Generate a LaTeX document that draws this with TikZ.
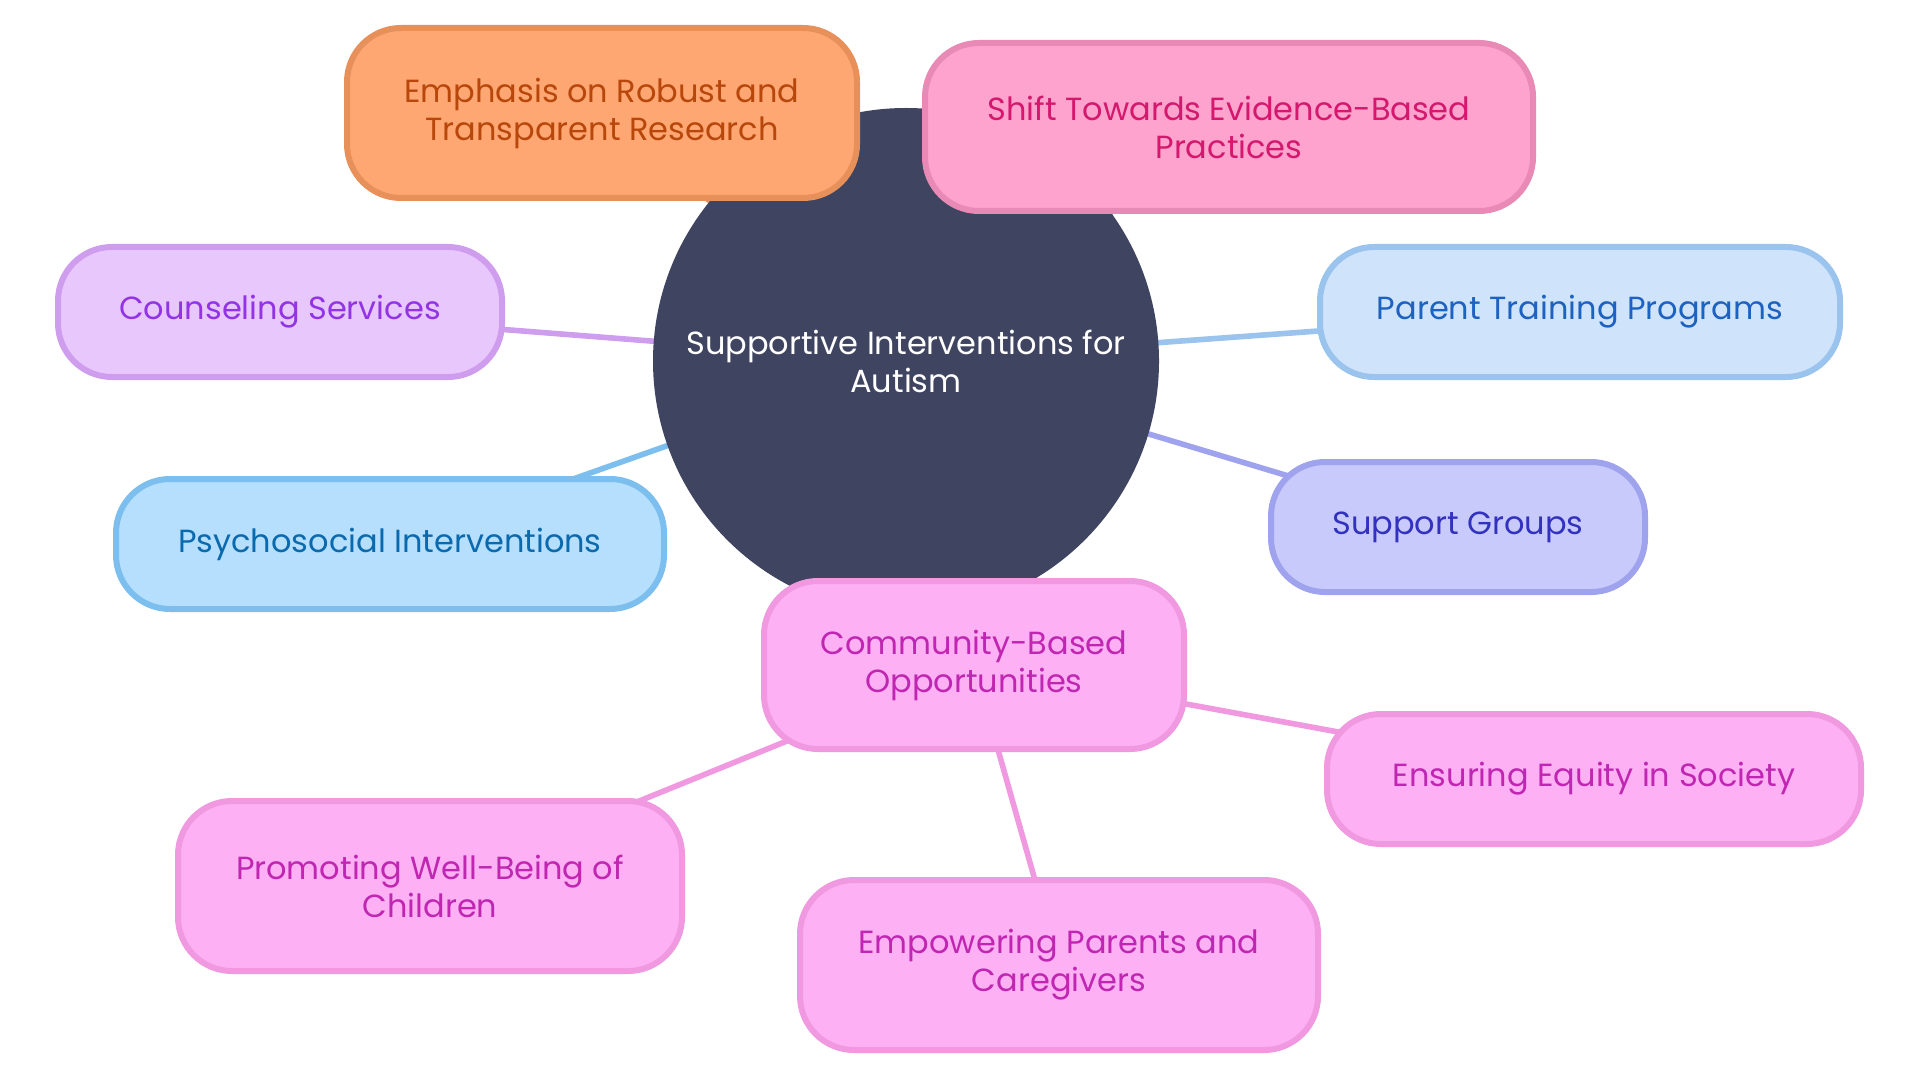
\documentclass[tikz,border=0pt]{standalone}
\usepackage{fontspec}
\setmainfont{Poppins}
\usetikzlibrary{backgrounds}
\definecolor{ctr}{HTML}{3F4560}
\definecolor{orF}{HTML}{FFA772}\definecolor{orD}{HTML}{E8905A}\definecolor{orT}{HTML}{B8470C}
\definecolor{pkF}{HTML}{FDA3CD}\definecolor{pkD}{HTML}{E98AB6}\definecolor{pkT}{HTML}{D3186E}
\definecolor{vlF}{HTML}{E8C8FC}\definecolor{vlD}{HTML}{CF9DEE}\definecolor{vlT}{HTML}{9234E6}
\definecolor{blF}{HTML}{CFE3FB}\definecolor{blD}{HTML}{9AC3EE}\definecolor{blT}{HTML}{1D62C0}
\definecolor{skF}{HTML}{B5DFFD}\definecolor{skD}{HTML}{7CBFEE}\definecolor{skT}{HTML}{0B69AE}
\definecolor{inF}{HTML}{C8CAFC}\definecolor{inD}{HTML}{9FA3EE}\definecolor{inT}{HTML}{3232BE}
\definecolor{mgF}{HTML}{FDB1F4}\definecolor{mgD}{HTML}{F099E0}\definecolor{mgT}{HTML}{C026B2}
\tikzset{
  box/.style={rectangle, rounded corners=27pt, line width=3pt, align=center,
    font=\fontsize{16}{19}\selectfont, inner sep=0pt},
  ornode/.style={box, fill=orF, draw=orD, text=orT},
  pknode/.style={box, fill=pkF, draw=pkD, text=pkT},
  vlnode/.style={box, fill=vlF, draw=vlD, text=vlT},
  blnode/.style={box, fill=blF, draw=blD, text=blT},
  sknode/.style={box, fill=skF, draw=skD, text=skT},
  innode/.style={box, fill=inF, draw=inD, text=inT},
  mgnode/.style={box, fill=mgF, draw=mgD, text=mgT},
  link/.style={line width=2.8pt},
}
\begin{document}
\begin{tikzpicture}[x=0.5pt,y=-0.5pt]
\useasboundingbox (0,0) rectangle (1920,1080);
\node[circle, fill=ctr, minimum size=253pt, inner sep=0pt, text=white, align=center,
  font=\fontsize{16}{19}\selectfont] (c) at (906,361) {Supportive Interventions for\\Autism};
\node[ornode, minimum width=255pt, minimum height=85pt] (emp) at (602,113) {Emphasis on Robust and\\Transparent Research};
\node[pknode, minimum width=304pt, minimum height=84pt] (shift) at (1229,127) {Shift Towards Evidence-Based\\Practices};
\node[vlnode, minimum width=222pt, minimum height=65pt] (couns) at (280,312) {Counseling Services};
\node[blnode, minimum width=260pt, minimum height=65pt] (parent) at (1580,312) {Parent Training Programs};
\node[sknode, minimum width=274pt, minimum height=65pt] (psych) at (390,544) {Psychosocial Interventions};
\node[innode, minimum width=187pt, minimum height=65pt] (supp) at (1458,527) {Support Groups};
\node[mgnode, minimum width=210pt, minimum height=84pt] (comm) at (974,665) {Community-Based\\Opportunities};
\node[mgnode, minimum width=267pt, minimum height=65pt] (equity) at (1594,779) {Ensuring Equity in Society};
\node[mgnode, minimum width=252pt, minimum height=85pt] (prom) at (430,886) {Promoting Well-Being of\\Children};
\node[mgnode, minimum width=259pt, minimum height=85pt] (empw) at (1059,965) {Empowering Parents and\\Caregivers};
\begin{scope}[on background layer]
\fill[white] (0,0) rectangle (1920,1080);
\draw[link, orD] (c.center) -- (emp.center);
\draw[link, pkD] (c.center) -- (shift.center);
\draw[link, vlD] (c.center) -- (couns.center);
\draw[link, blD] (c.center) -- (parent.center);
\draw[link, skD] (c.center) -- (psych.center);
\draw[link, inD] (c.center) -- (supp.center);
\draw[link, mgD] (c.center) -- (comm.center);
\draw[link, mgD] (comm.center) -- (equity.center);
\draw[link, mgD] (comm.center) -- (prom.center);
\draw[link, mgD] (comm.center) -- (empw.center);
\end{scope}
\end{tikzpicture}
\end{document}
